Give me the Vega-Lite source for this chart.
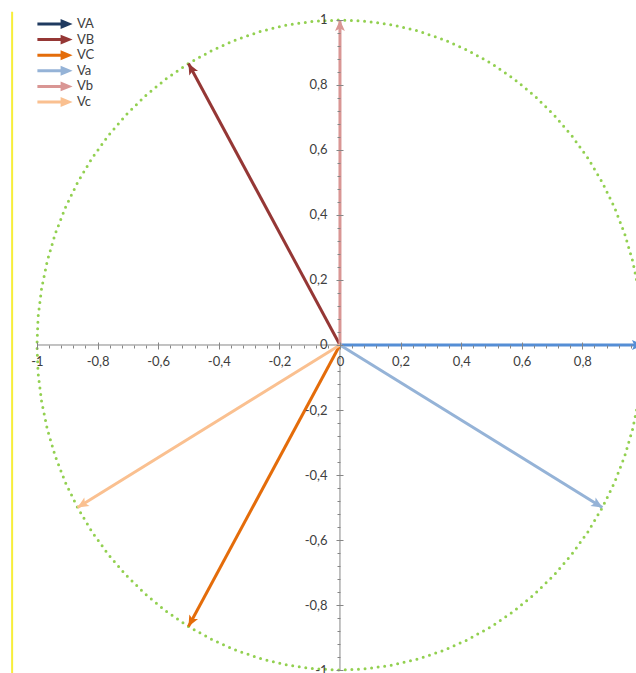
{
  "$schema": "https://vega.github.io/schema/vega-lite/v6.json",
  "width": 636,
  "height": 673,
  "autosize": "none",
  "padding": 0,
  "background": "white",
  "config": {"view": {"stroke": null}},
  "datasets": {
    "border": [{"x": -1.082, "y": 1.025, "y2": -1.01}],
    "axislines": [
      {"x": -1, "x2": 1, "y": 0, "y2": 0},
      {"x": 0, "x2": 0, "y": -1, "y2": 1}
    ],
    "circle": [
      {"a": 0, "x": 1, "y": 0}, {"a": 5, "x": 0.9962, "y": 0.0872}, {"a": 10, "x": 0.9848, "y": 0.1736}, {"a": 15, "x": 0.9659, "y": 0.2588},
      {"a": 20, "x": 0.9397, "y": 0.342}, {"a": 25, "x": 0.9063, "y": 0.4226}, {"a": 30, "x": 0.866, "y": 0.5}, {"a": 35, "x": 0.8192, "y": 0.5736},
      {"a": 40, "x": 0.766, "y": 0.6428}, {"a": 45, "x": 0.7071, "y": 0.7071}, {"a": 50, "x": 0.6428, "y": 0.766}, {"a": 55, "x": 0.5736, "y": 0.8192},
      {"a": 60, "x": 0.5, "y": 0.866}, {"a": 65, "x": 0.4226, "y": 0.9063}, {"a": 70, "x": 0.342, "y": 0.9397}, {"a": 75, "x": 0.2588, "y": 0.9659},
      {"a": 80, "x": 0.1736, "y": 0.9848}, {"a": 85, "x": 0.0872, "y": 0.9962}, {"a": 90, "x": 0, "y": 1},
      {"a": 95, "x": -0.0872, "y": 0.9962}, {"a": 100, "x": -0.1736, "y": 0.9848}, {"a": 105, "x": -0.2588, "y": 0.9659}, {"a": 110, "x": -0.342, "y": 0.9397},
      {"a": 115, "x": -0.4226, "y": 0.9063}, {"a": 120, "x": -0.5, "y": 0.866}, {"a": 125, "x": -0.5736, "y": 0.8192}, {"a": 130, "x": -0.6428, "y": 0.766},
      {"a": 135, "x": -0.7071, "y": 0.7071}, {"a": 140, "x": -0.766, "y": 0.6428}, {"a": 145, "x": -0.8192, "y": 0.5736}, {"a": 150, "x": -0.866, "y": 0.5},
      {"a": 155, "x": -0.9063, "y": 0.4226}, {"a": 160, "x": -0.9397, "y": 0.342}, {"a": 165, "x": -0.9659, "y": 0.2588}, {"a": 170, "x": -0.9848, "y": 0.1736},
      {"a": 175, "x": -0.9962, "y": 0.0872}, {"a": 180, "x": -1, "y": 0},
      {"a": 185, "x": -0.9962, "y": -0.0872}, {"a": 190, "x": -0.9848, "y": -0.1736}, {"a": 195, "x": -0.9659, "y": -0.2588}, {"a": 200, "x": -0.9397, "y": -0.342},
      {"a": 205, "x": -0.9063, "y": -0.4226}, {"a": 210, "x": -0.866, "y": -0.5}, {"a": 215, "x": -0.8192, "y": -0.5736}, {"a": 220, "x": -0.766, "y": -0.6428},
      {"a": 225, "x": -0.7071, "y": -0.7071}, {"a": 230, "x": -0.6428, "y": -0.766}, {"a": 235, "x": -0.5736, "y": -0.8192}, {"a": 240, "x": -0.5, "y": -0.866},
      {"a": 245, "x": -0.4226, "y": -0.9063}, {"a": 250, "x": -0.342, "y": -0.9397}, {"a": 255, "x": -0.2588, "y": -0.9659}, {"a": 260, "x": -0.1736, "y": -0.9848},
      {"a": 265, "x": -0.0872, "y": -0.9962}, {"a": 270, "x": 0, "y": -1},
      {"a": 275, "x": 0.0872, "y": -0.9962}, {"a": 280, "x": 0.1736, "y": -0.9848}, {"a": 285, "x": 0.2588, "y": -0.9659}, {"a": 290, "x": 0.342, "y": -0.9397},
      {"a": 295, "x": 0.4226, "y": -0.9063}, {"a": 300, "x": 0.5, "y": -0.866}, {"a": 305, "x": 0.5736, "y": -0.8192}, {"a": 310, "x": 0.6428, "y": -0.766},
      {"a": 315, "x": 0.7071, "y": -0.7071}, {"a": 320, "x": 0.766, "y": -0.6428}, {"a": 325, "x": 0.8192, "y": -0.5736}, {"a": 330, "x": 0.866, "y": -0.5},
      {"a": 335, "x": 0.9063, "y": -0.4226}, {"a": 340, "x": 0.9397, "y": -0.342}, {"a": 345, "x": 0.9659, "y": -0.2588}, {"a": 350, "x": 0.9848, "y": -0.1736},
      {"a": 355, "x": 0.9962, "y": -0.0872}, {"a": 360, "x": 1, "y": 0}
    ],
    "shafts": [
      {"name": "VA", "p": 0, "x": 0, "y": 0}, {"name": "VA", "p": 1, "x": 1, "y": 0},
      {"name": "VB", "p": 0, "x": 0, "y": 0}, {"name": "VB", "p": 1, "x": -0.5, "y": 0.866},
      {"name": "VC", "p": 0, "x": 0, "y": 0}, {"name": "VC", "p": 1, "x": -0.5, "y": -0.866},
      {"name": "Va", "p": 0, "x": 0, "y": 0}, {"name": "Va", "p": 1, "x": 0.866, "y": -0.5},
      {"name": "Vb", "p": 0, "x": 0, "y": 0}, {"name": "Vb", "p": 1, "x": 0, "y": 1},
      {"name": "Vc", "p": 0, "x": 0, "y": 0}, {"name": "Vc", "p": 1, "x": -0.866, "y": -0.5}
    ],
    "vectors": [
      {"name": "VA", "x": 1, "y": 0},
      {"name": "VB", "x": -0.5, "y": 0.866},
      {"name": "VC", "x": -0.5, "y": -0.866},
      {"name": "Va", "x": 0.866, "y": -0.5},
      {"name": "Vb", "x": 0, "y": 1},
      {"name": "Vc", "x": -0.866, "y": -0.5}
    ]
  },
  "layer": [
    {
      "data": {"name": "border"},
      "mark": {"type": "rule", "color": "#F7EE3A", "strokeWidth": 2},
      "encoding": {
        "x": {"field": "x", "type": "quantitative", "axis": null},
        "y": {"field": "y", "type": "quantitative", "axis": null},
        "y2": {"field": "y2"}
      }
    },
    {
      "data": {"name": "axislines"},
      "mark": {"type": "rule", "color": "#868686", "strokeWidth": 1},
      "encoding": {
        "x": {
          "field": "x", "type": "quantitative",
          "axis": {
            "orient": "bottom", "offset": -328, "domain": false, "grid": false, "labels": false,
            "values": [-0.96,-0.92,-0.88,-0.84,-0.76,-0.72,-0.68,-0.64,-0.56,-0.52,-0.48,-0.44,-0.36,-0.32,-0.28,-0.24,-0.16,-0.12,-0.08,-0.04,0.04,0.08,0.12,0.16,0.24,0.28,0.32,0.36,0.44,0.48,0.52,0.56,0.64,0.68,0.72,0.76,0.84,0.88,0.92,0.96],
            "tickSize": 3, "tickColor": "#868686", "tickWidth": 1, "title": null, "zindex": 1
          }
        },
        "x2": {"field": "x2"},
        "y": {
          "field": "y", "type": "quantitative",
          "axis": {
            "orient": "left", "offset": -340, "domain": false, "grid": false, "labels": false,
            "values": [-0.96,-0.92,-0.88,-0.84,-0.76,-0.72,-0.68,-0.64,-0.56,-0.52,-0.48,-0.44,-0.36,-0.32,-0.28,-0.24,-0.16,-0.12,-0.08,-0.04,0.04,0.08,0.12,0.16,0.24,0.28,0.32,0.36,0.44,0.48,0.52,0.56,0.64,0.68,0.72,0.76,0.84,0.88,0.92,0.96],
            "tickSize": 3, "tickColor": "#868686", "tickWidth": 1, "title": null, "zindex": 1
          }
        },
        "y2": {"field": "y2"}
      }
    },
    {
      "data": {"name": "circle"},
      "mark": {"type": "line", "color": "#92D050", "strokeWidth": 3, "strokeDash": [0, 6.6], "strokeCap": "round", "clip": true},
      "encoding": {
        "x": {
          "field": "x", "type": "quantitative",
          "scale": {"domain": [-1.122, 0.977], "nice": false, "zero": false},
          "axis": {
            "orient": "bottom", "offset": -331, "domain": false, "grid": false,
            "values": [-1, -0.8, -0.6, -0.4, -0.2, 0, 0.2, 0.4, 0.6, 0.8, 1],
            "tickSize": 7, "tickColor": "#868686", "tickWidth": 1,
            "labelExpr": "replace(toString(datum.value), '.', ',')",
            "labelFont": "Lato", "labelFontSize": 13, "labelColor": "#404040", "labelPadding": 6,
            "labelOverlap": false, "labelBound": false, "labelFlush": false,
            "title": null, "zindex": 1
          }
        },
        "y": {
          "field": "y", "type": "quantitative",
          "scale": {"domain": [-1.0092, 1.0615], "nice": false, "zero": false},
          "axis": {
            "orient": "left", "offset": -343, "domain": false, "grid": false,
            "values": [-1, -0.8, -0.6, -0.4, -0.2, 0, 0.2, 0.4, 0.6, 0.8, 1],
            "tickSize": 7, "tickColor": "#868686", "tickWidth": 1,
            "labelExpr": "replace(toString(datum.value), '.', ',')",
            "labelFont": "Lato", "labelFontSize": 13, "labelColor": "#404040", "labelPadding": 9,
            "labelOverlap": false, "labelBound": false, "labelFlush": false,
            "title": null, "zindex": 1
          }
        },
        "order": {"field": "a", "type": "quantitative"}
      }
    },
    {
      "data": {"name": "shafts"},
      "mark": {"type": "line", "strokeWidth": 3, "clip": true},
      "encoding": {
        "x": {"field": "x", "type": "quantitative", "axis": null},
        "y": {"field": "y", "type": "quantitative", "axis": null},
        "order": {"field": "p", "type": "quantitative"},
        "detail": {"field": "name", "type": "nominal"},
        "stroke": {
          "field": "name", "type": "nominal", "legend": null,
          "scale": {"range": ["#558ED5", "#953735", "#E46C0A", "#95B3D7", "#D99694", "#FAC090"]}
        }
      }
    },
    {
      "data": {"name": "vectors"},
      "transform": [{"calculate": "atan2(datum.x * 303, datum.y * 325) * 180 / PI", "as": "ang"}],
      "mark": {"type": "point", "shape": "M0,0L0.45,1L0,0.78L-0.45,1Z", "filled": true, "size": 484, "opacity": 1, "strokeWidth": 0, "clip": true},
      "encoding": {
        "x": {"field": "x", "type": "quantitative", "axis": null},
        "y": {"field": "y", "type": "quantitative", "axis": null},
        "angle": {"field": "ang", "type": "quantitative", "scale": null},
        "fill": {
          "field": "name", "type": "nominal", "legend": null,
          "scale": {"range": ["#558ED5", "#953735", "#E46C0A", "#95B3D7", "#D99694", "#FAC090"]}
        }
      }
    },
    {
      "data": {"name": "vectors"},
      "mark": {"type": "point", "filled": true, "size": 0, "opacity": 1},
      "encoding": {
        "x": {"field": "x", "type": "quantitative", "axis": null},
        "y": {"field": "y", "type": "quantitative", "axis": null},
        "color": {
          "field": "name", "type": "nominal",
          "scale": {"domain": ["VA", "VB", "VC", "Va", "Vb", "Vc"], "range": ["#1F3A60", "#953735", "#E46C0A", "#95B3D7", "#D99694", "#FAC090"]},
          "legend": {
            "orient": "none", "legendX": 47, "legendY": 16, "title": null, "padding": 0,
            "symbolType": "M-2.2,-0.19L0.7,-0.19L0.7,-0.62L2.2,0L0.7,0.62L0.7,0.19L-2.2,0.19Z",
            "symbolSize": 256, "symbolStrokeWidth": 0, "symbolOpacity": 1,
            "labelFont": "Lato", "labelFontSize": 13, "labelColor": "#404040", "labelOffset": 14,
            "rowPadding": 0.6
          }
        }
      }
    }
  ],
  "resolve": {"axis": {"x": "independent", "y": "independent"}}
}
